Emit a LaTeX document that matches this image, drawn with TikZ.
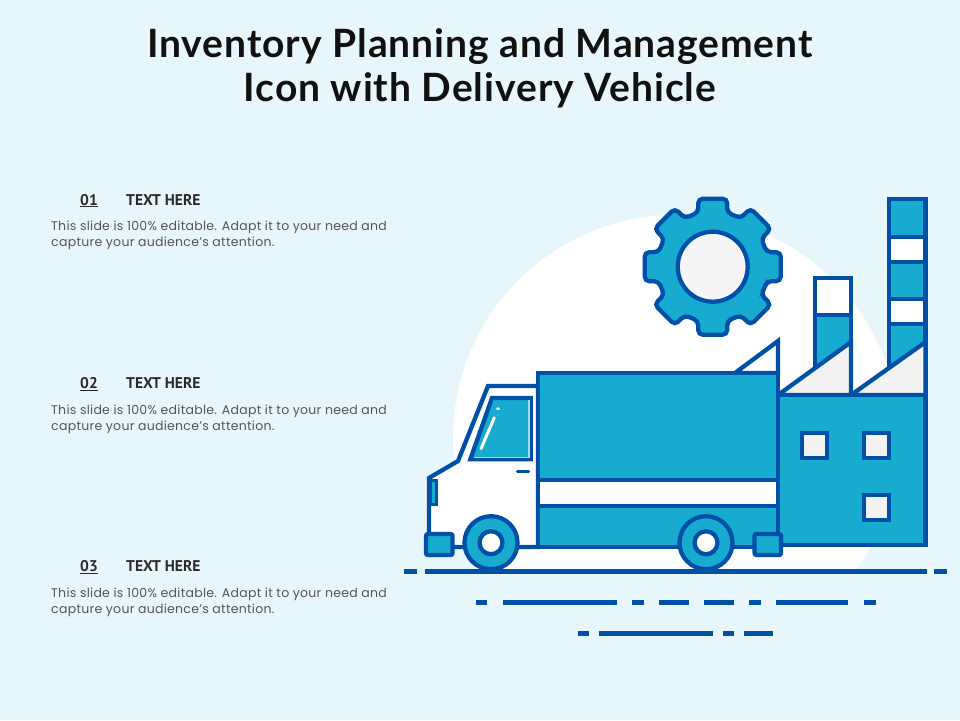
\documentclass[tikz,border=0pt]{standalone}
\usepackage{fontspec}
\setmainfont[LetterSpace=2.2]{Poppins}
\newfontfamily\headfont[LetterSpace=2.4]{Lato}
\newfontfamily\labelfont{PT Sans}
\usetikzlibrary{positioning}
\definecolor{pagebg}{HTML}{E6F6FB}
\definecolor{lineblue}{HTML}{0050A8}
\definecolor{fillblue}{HTML}{18ABD0}
\definecolor{paleblue}{HTML}{A5DCEC}
\definecolor{palegrey}{HTML}{F2F2F3}
\definecolor{gearcore}{HTML}{F5F5F8}
\definecolor{titleink}{HTML}{111111}
\definecolor{headink}{HTML}{2B2B2B}
\definecolor{bodyink}{HTML}{555555}
\tikzset{
    shapeline/.style={draw=lineblue, line width=4.3pt, line join=miter},
    bluepart/.style={shapeline, fill=fillblue},
    whitepart/.style={shapeline, fill=white},
    greypart/.style={shapeline, fill=palegrey},
    groundline/.style={draw=lineblue, line width=4.5pt},
    titletext/.style={font=\headfont\fontsize{39}{44}\bfseries\selectfont, text=titleink, align=center, inner sep=0pt},
    numtext/.style={font=\labelfont\fontsize{15.5}{18}\bfseries\selectfont, text=headink, inner sep=0pt, anchor=base},
    headtext/.style={font=\labelfont\fontsize{15.5}{18}\bfseries\selectfont, text=headink, inner sep=0pt, anchor=base west},
    bodytext/.style={font=\fontsize{12.5}{16}\selectfont, text=bodyink, align=left, inner sep=0pt, anchor=north west},
}
\begin{document}
\begin{tikzpicture}[x=1pt, y=-1pt]
\fill[pagebg] (0,0) rectangle (960,720);
\useasboundingbox (0,0) rectangle (960,720);
\begin{scope}
    \clip (0,0) rectangle (960,571);
    \fill[white] (676,438) circle (223pt);
\end{scope}

\node[titletext] (title) at (480,68.5) {Inventory Planning and Management\\Icon with Delivery Vehicle};

% text blocks
\foreach \n/\yy in {1/205, 2/388.5, 3/571.5} {
    \node[numtext] (num\n) at (89,\yy) {\underline{0\n}};
    \node[headtext] (head\n) at (126,\yy) {TEXT HERE};
    \node[bodytext] (body\n) at (51,\yy+16) {This slide is 100\% editable. Adapt it to your need and\\capture your audience's attention.};
}

% gear
\begin{scope}[shift={(712.7,266.7)}]
    \draw[bluepart, rounded corners=4.5pt] (-22.5:56pt)
        \foreach \a in {0,45,...,315} {
            -- (\a-15:56pt) -- (\a-12:69.5pt) -- (\a+12:69.5pt) -- (\a+15:56pt)
        } -- cycle;
    \draw[shapeline, fill=gearcore] (0,0) circle (35pt);
\end{scope}

% chimneys
\fill[fillblue] (889,199) rectangle (925.5,370);
\fill[white] (889,237) rectangle (925.5,262);
\fill[white] (889,299) rectangle (925.5,324);
\draw[shapeline] (889,375) -- (889,199) -- (925.5,199) -- (925.5,395);
\foreach \yy in {237,262,299,324} {
    \draw[shapeline] (889,\yy) -- (925.5,\yy);
}
\fill[fillblue] (815,315) rectangle (851,370);
\fill[white] (815,278) rectangle (851,315);
\draw[shapeline] (815,375) -- (815,278) -- (851,278) -- (851,395);
\draw[shapeline] (815,315) -- (851,315);

% factory
\draw[greypart] (778,395) -- (851,342) -- (851,395) -- cycle;
\draw[greypart] (851,395) -- (925.5,342) -- (925.5,395) -- cycle;
\draw[whitepart] (735,373) -- (778,341) -- (778,373) -- cycle;
\draw[bluepart] (778,395) rectangle (925.5,545);
\foreach \wx/\wy in {802/433, 864/433, 864/495} {
    \draw[greypart] (\wx,\wy) rectangle +(25,25);
}

% truck
\draw[whitepart] (538,386) -- (488,386) -- (458,461) -- (429,478) -- (429,547) -- (538,547) -- cycle;
\draw[bluepart] (538,373) rectangle (778,547);
\draw[whitepart] (538,480) rectangle (778,506);
\draw[bluepart] (492,398) -- (530.7,398) -- (530.7,459.3) -- (470.3,459.3) -- cycle;
\draw[paleblue, line width=1.2pt] (529,400) -- (529,457.5) -- (474,457.5);
\draw[white, line width=3pt, line cap=round] (494.3,417.7) -- (481,448.7);
\fill[white] (498,408.7) ellipse (2pt and 1.3pt);
\draw[lineblue, line width=3.5pt, line cap=round] (517.5,471.7) -- (528.5,471.7);
\draw[bluepart, line width=3pt] (430.5,480.5) rectangle (436,504.5);
\foreach \bx in {426,754.5} {
    \draw[bluepart, rounded corners=2pt] (\bx,534) rectangle +(26.5,21);
}
\foreach \wx in {491,706} {
    \draw[bluepart] (\wx,542.7) circle (26.5pt);
    \draw[whitepart] (\wx,542.7) circle (11.5pt);
}

% ground dashes
\foreach \xa/\xb in {404/417, 425/926.7, 934/947} {
    \draw[groundline] (\xa,571.5) -- (\xb,571.5);
}
\foreach \xa/\xb in {476/487.3, 502.7/616.7, 632/643.7, 659.3/688.7, 704/733.7, 749/760.7, 776/848.3, 864/875.7} {
    \draw[groundline] (\xa,602.3) -- (\xb,602.3);
}
\foreach \xa/\xb in {577.7/589, 599/713, 722.7/734.3, 744/773.3} {
    \draw[groundline] (\xa,633.3) -- (\xb,633.3);
}
\end{tikzpicture}
\end{document}
